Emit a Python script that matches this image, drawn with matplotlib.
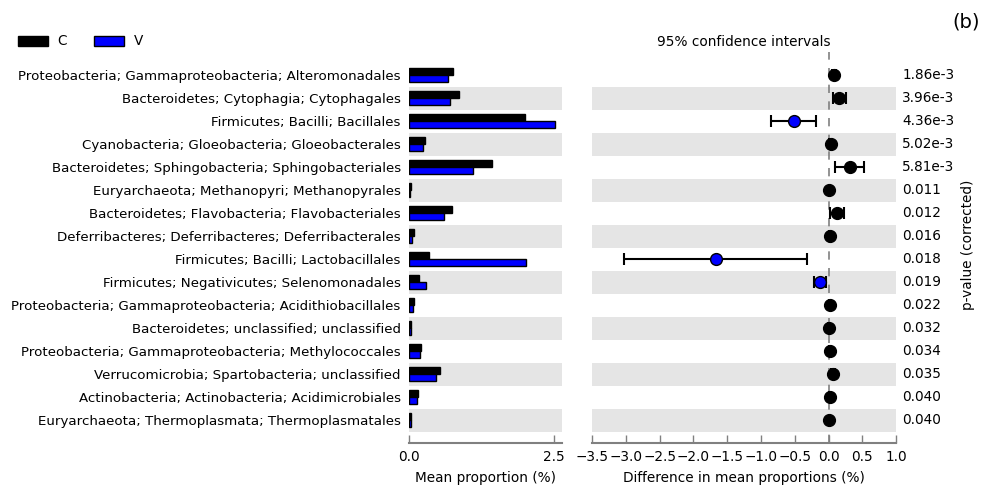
import numpy as np
import matplotlib.pyplot as plt
from matplotlib.patches import Patch

features = [
    'Proteobacteria; Gammaproteobacteria; Alteromonadales',
    'Bacteroidetes; Cytophagia; Cytophagales',
    'Firmicutes; Bacilli; Bacillales',
    'Cyanobacteria; Gloeobacteria; Gloeobacterales',
    'Bacteroidetes; Sphingobacteria; Sphingobacteriales',
    'Euryarchaeota; Methanopyri; Methanopyrales',
    'Bacteroidetes; Flavobacteria; Flavobacteriales',
    'Deferribacteres; Deferribacteres; Deferribacterales',
    'Firmicutes; Bacilli; Lactobacillales',
    'Firmicutes; Negativicutes; Selenomonadales',
    'Proteobacteria; Gammaproteobacteria; Acidithiobacillales',
    'Bacteroidetes; unclassified; unclassified',
    'Proteobacteria; Gammaproteobacteria; Methylococcales',
    'Verrucomicrobia; Spartobacteria; unclassified',
    'Actinobacteria; Actinobacteria; Acidimicrobiales',
    'Euryarchaeota; Thermoplasmata; Thermoplasmatales',
]

# mean proportions (%) for each group
mean_c = [0.76, 0.86, 2.00, 0.28, 1.43, 0.03, 0.74, 0.09,
          0.34, 0.18, 0.09, 0.04, 0.21, 0.54, 0.16, 0.04]
mean_v = [0.67, 0.71, 2.52, 0.24, 1.10, 0.02, 0.60, 0.06,
          2.02, 0.30, 0.07, 0.03, 0.19, 0.47, 0.13, 0.03]

# difference in mean proportions with 95% CI
diff = [0.08, 0.16, -0.51, 0.03, 0.32, 0.01, 0.12, 0.02,
        -1.67, -0.13, 0.02, 0.00, 0.02, 0.07, 0.02, 0.01]
ci_low = [0.05, 0.06, -0.85, 0.01, 0.10, 0.00, 0.02, 0.00,
          -3.03, -0.22, 0.00, -0.01, 0.00, 0.04, 0.00, 0.00]
ci_high = [0.11, 0.26, -0.18, 0.05, 0.53, 0.02, 0.23, 0.04,
           -0.32, -0.03, 0.04, 0.01, 0.04, 0.10, 0.04, 0.02]

pvalues = ['1.86e-3', '3.96e-3', '4.36e-3', '5.02e-3', '5.81e-3', '0.011',
           '0.012', '0.016', '0.018', '0.019', '0.022', '0.032', '0.034',
           '0.035', '0.040', '0.040']

col_c = 'black'
col_v = '#0000ff'
stripe = '#e5e5e5'
spine_col = '#808080'

plt.rcParams['font.family'] = 'DejaVu Sans'
plt.rcParams['font.size'] = 9.8

fig = plt.figure(figsize=(9.82, 4.87), dpi=100)
ax_bar = fig.add_axes([0.4165, 0.0903, 0.1558, 0.8029])
ax_ci = fig.add_axes([0.6029, 0.0903, 0.3096, 0.8029])

y = np.arange(len(features))
bh = 0.3

for ax in (ax_bar, ax_ci):
    for i in y:
        if i % 2 == 1:
            ax.axhspan(i - 0.5, i + 0.5, color=stripe, zorder=0, lw=0)
    ax.set_ylim(16, -1)
    for s in ('top', 'right', 'left'):
        ax.spines[s].set_visible(False)
    ax.spines['bottom'].set_color(spine_col)
    ax.spines['bottom'].set_linewidth(1.5)
    ax.tick_params(axis='x', direction='in', length=6, color=spine_col, width=1, pad=5)
    ax.tick_params(axis='y', length=0)

# mean proportion bars
ax_bar.barh(y - bh / 2, mean_c, height=bh, color=col_c, edgecolor='black', lw=1, zorder=2)
ax_bar.barh(y + bh / 2, mean_v, height=bh, color=col_v, edgecolor='black', lw=1, zorder=2)
ax_bar.set_xlim(0, 2.64)
ax_bar.set_xticks([0, 2.5])
ax_bar.set_xticklabels(['0.0', '2.5'])
ax_bar.set_yticks(y)
ax_bar.set_yticklabels(features, fontsize=9.65)
ax_bar.tick_params(axis='y', pad=6)
ax_bar.set_xlabel('Mean proportion (%)', labelpad=5)

# confidence intervals
ax_ci.axvline(0, color=spine_col, ls=(0, (5, 5)), lw=1.2, zorder=1)
for i in y:
    c = col_v if diff[i] < 0 else col_c
    ax_ci.errorbar(diff[i], i, xerr=[[diff[i] - ci_low[i]], [ci_high[i] - diff[i]]],
                   fmt='o', color=c, mec='black', mfc=c, ms=8.5, ecolor='black',
                   elinewidth=1.5, capsize=4, capthick=1.5, zorder=3)
ax_ci.set_xlim(-3.5, 1.0)
ax_ci.set_xticks(np.arange(-3.5, 1.01, 0.5))
ax_ci.set_xticklabels([f'{v:.1f}'.replace('-', '\u2212') for v in np.arange(-3.5, 1.01, 0.5)])
ax_ci.set_yticks([])
ax_ci.set_xlabel('Difference in mean proportions (%)', labelpad=5)
ax_ci.set_title('95% confidence intervals', fontsize=9.8, pad=4)

for i in y:
    ax_ci.text(1.02, i, pvalues[i], transform=ax_ci.get_yaxis_transform(),
               va='center', ha='left')

fig.text(0.986, 0.497, 'p-value (corrected)', rotation=90, va='center', ha='center')
fig.text(0.998, 0.955, '(b)', ha='right', va='center', fontsize=14)

handles = [Patch(facecolor=col_c, edgecolor='black', label='C'),
           Patch(facecolor=col_v, edgecolor='black', label='V')]
fig.legend(handles=handles, loc='center left', bbox_to_anchor=(0.006, 0.915), ncol=2,
           frameon=False, handlelength=2.2, handleheight=0.75, columnspacing=2.0,
           handletextpad=0.7)

fig.savefig('out.png', dpi=100)
